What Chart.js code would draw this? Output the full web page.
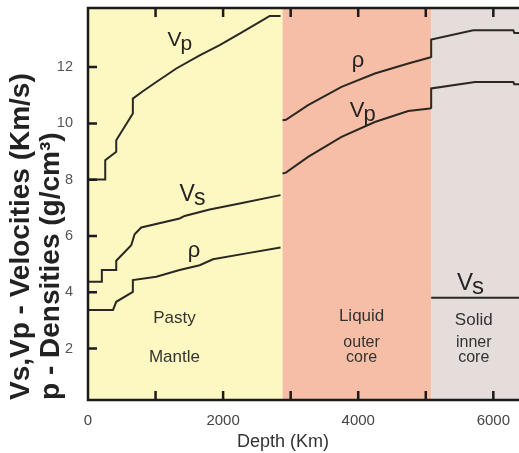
<!DOCTYPE html>
<html>
<head>
<meta charset="utf-8">
<script src="https://cdn.jsdelivr.net/npm/chart.js@4.4.1/dist/chart.umd.min.js"></script>
<style>
  html, body { margin: 0; padding: 0; background: #fff; }
  #wrap { width: 519px; height: 453px; }
</style>
</head>
<body>
<div id="wrap"><canvas id="chart" width="519" height="453"></canvas></div>
<script>
// layer boundaries (depth, km)
const layerEdges = [0, 2880, 5080, 6380];
const layerNames = [['Pasty', 'Mantle'], ['Liquid', 'outer', 'core'], ['Solid', 'inner', 'core']];

// axis ticks
const xTicks = [0, 1000, 2000, 3000, 4000, 5000, 6000];
const xLabels = [0, 2000, 4000, 6000];
const yTicks = [2, 4, 6, 8, 10, 12];

// mantle
const mantleVpDepth = [0, 255, 255, 418, 418, 664, 664, 812, 1011, 1307, 1653, 1949, 2245, 2542, 2690, 2850];
const mantleVp = [8.01, 8.01, 8.69, 8.99, 9.40, 10.35, 10.88, 11.14, 11.47, 11.95, 12.42, 12.78, 13.19, 13.61, 13.82, 13.82];
const mantleVsDepth = [0, 205, 205, 418, 418, 640, 690, 788, 1356, 1430, 1801, 2245, 2850];
const mantleVs = [4.37, 4.37, 4.79, 4.79, 5.12, 5.67, 6.06, 6.30, 6.62, 6.71, 6.94, 7.15, 7.45];
const mantleRhoDepth = [0, 370, 418, 664, 664, 1011, 1356, 1653, 1850, 2345, 2850];
const mantleRho = [3.37, 3.37, 3.66, 4.01, 4.43, 4.55, 4.79, 4.96, 5.17, 5.38, 5.59];

// outer + inner core
const coreRhoDepth = [2880, 2930, 3258, 3753, 4246, 4740, 5061, 5080, 5080, 5703, 6296, 6310, 6380];
const coreRho = [10.11, 10.13, 10.65, 11.30, 11.77, 12.13, 12.34, 12.36, 12.98, 13.31, 13.31, 13.21, 13.21];
const coreVpDepth = [2880, 2930, 3258, 3753, 4246, 4740, 5061, 5080, 5080, 5729, 6296, 6310, 6380];
const coreVp = [8.22, 8.25, 8.81, 9.52, 10.05, 10.44, 10.53, 10.55, 11.24, 11.47, 11.47, 11.39, 11.39];
const innerVsDepth = [5080, 6380];
const innerVs = [3.80, 3.80];

const FONT = "'Liberation Sans', Arial, sans-serif";
const INK = '#2b2722';

function pts(depth, vals) {
  return depth.map((d, i) => ({ x: d, y: vals[i] }));
}

const series = [
  pts(mantleVpDepth, mantleVp),
  pts(mantleVsDepth, mantleVs),
  pts(mantleRhoDepth, mantleRho),
  pts(coreRhoDepth, coreRho),
  pts(coreVpDepth, coreVp),
  pts(innerVsDepth, innerVs)
];

// curve labels: main letter + subscript, placed in data coordinates
const curveLabels = [
  { main: 'V', sub: 'p', at: [1178, 12.74], size: 21 },
  { main: 'V', sub: 's', at: [1356, 7.24], size: 23 },
  { main: 'ρ', sub: '', at: [1475, 5.25], size: 22 },
  { main: 'ρ', sub: '', at: [3905, 11.99], size: 22 },
  { main: 'V', sub: 'p', at: [3876, 10.22], size: 22 },
  { main: 'V', sub: 's', at: [5461, 4.07], size: 24 }
];
// layer names: baseline values for each line
const nameAt = [
  { x: 1280, y: [2.90, 1.51], size: [17, 17] },
  { x: 4050, y: [2.97, 2.06, 1.53], size: [17, 16, 16] },
  { x: 5710, y: [2.83, 2.06, 1.53], size: [17, 16, 16] }
];

const bandPlugin = {
  id: 'bands',
  beforeDatasetsDraw(chart) {
    const { ctx, chartArea: a, scales: { x } } = chart;
    const colors = ['#fdf8c2', '#f6bea6', '#e4ddd9'];
    ctx.save();
    for (let i = 0; i < colors.length; i++) {
      const x0 = x.getPixelForValue(layerEdges[i]);
      const x1 = x.getPixelForValue(layerEdges[i + 1]);
      ctx.fillStyle = colors[i];
      ctx.fillRect(x0, a.top, x1 - x0, a.bottom - a.top);
    }
    ctx.restore();
  }
};

const framePlugin = {
  id: 'frame',
  afterDatasetsDraw(chart) {
    const { ctx, chartArea: a, scales: { x, y } } = chart;
    ctx.save();
    ctx.strokeStyle = '#1b1b1b';
    ctx.lineWidth = 2.5;
    ctx.beginPath();
    ctx.moveTo(a.right, a.top);
    ctx.lineTo(a.left, a.top);
    ctx.lineTo(a.left, a.bottom);
    ctx.lineTo(a.right, a.bottom);
    ctx.stroke();
    // inward tick marks
    const len = 9;
    ctx.beginPath();
    xTicks.forEach(v => {
      if (v === 0) return;
      const px = x.getPixelForValue(v);
      ctx.moveTo(px, a.top); ctx.lineTo(px, a.top + len);
      ctx.moveTo(px, a.bottom); ctx.lineTo(px, a.bottom - len);
    });
    yTicks.forEach(v => {
      const py = y.getPixelForValue(v);
      ctx.moveTo(a.left, py); ctx.lineTo(a.left + len, py);
    });
    ctx.stroke();
    ctx.restore();
  }
};

const textPlugin = {
  id: 'texts',
  afterDraw(chart) {
    const { ctx, scales: { x, y } } = chart;
    ctx.save();
    ctx.fillStyle = '#262322';
    ctx.textBaseline = 'alphabetic';
    curveLabels.forEach(l => {
      const px = x.getPixelForValue(l.at[0]);
      const py = y.getPixelForValue(l.at[1]);
      ctx.font = l.size + 'px ' + FONT;
      ctx.textAlign = 'left';
      ctx.fillText(l.main, px, py);
      if (l.sub) {
        const w = ctx.measureText(l.main).width;
        ctx.fillText(l.sub, px + w - 1, py + 4);
      }
    });
    ctx.fillStyle = '#333';
    ctx.textAlign = 'center';
    layerNames.forEach((lines, i) => {
      const n = nameAt[i];
      lines.forEach((t, j) => {
        ctx.font = n.size[j] + 'px ' + FONT;
        ctx.fillText(t, x.getPixelForValue(n.x), y.getPixelForValue(n.y[j]));
      });
    });
    // x axis title
    ctx.font = '18px ' + FONT;
    ctx.fillStyle = '#333';
    ctx.fillText('Depth (Km)', 283, 447);
    ctx.restore();
  }
};

new Chart(document.getElementById('chart'), {
  type: 'line',
  data: {
    datasets: series.map(d => ({
      data: d,
      borderColor: INK,
      borderWidth: 2,
      pointRadius: 0,
      tension: 0,
      fill: false
    }))
  },
  options: {
    responsive: false,
    animation: false,
    layout: { padding: { top: 8, right: 0, bottom: 0, left: 0 } },
    plugins: { legend: { display: false }, tooltip: { enabled: false } },
    scales: {
      x: {
        type: 'linear',
        min: 0,
        max: 6380,
        grid: { display: false },
        border: { display: false },
        afterBuildTicks: s => { s.ticks = xTicks.map(v => ({ value: v })); },
        ticks: {
          autoSkip: false,
          maxRotation: 0,
          padding: 4,
          color: '#444',
          font: { family: FONT, size: 15 },
          callback: v => xLabels.includes(v) ? String(v) : ''
        },
        afterFit: s => { s.height = 53; s.paddingLeft = 0; s.paddingRight = 0; }
      },
      y: {
        type: 'linear',
        min: 0.17,
        max: 14.1,
        grid: { display: false },
        border: { display: false },
        afterBuildTicks: s => { s.ticks = yTicks.map(v => ({ value: v })); },
        ticks: {
          padding: 7,
          color: '#555',
          font: { family: FONT, size: 14.5 },
          callback: v => String(v)
        },
        title: {
          display: true,
          text: ['Vs,Vp - Velocities (Km/s)', 'p - Densities (g/cm³)'],
          align: 'start',
          color: '#222',
          font: { family: FONT, size: 28, weight: 'bold', lineHeight: 1.05 },
          padding: { top: 7, bottom: 0 }
        },
        afterFit: s => { s.width = 88; s.paddingTop = 0; s.paddingBottom = 0; }
      }
    }
  },
  plugins: [bandPlugin, framePlugin, textPlugin]
});
</script>
</body>
</html>
